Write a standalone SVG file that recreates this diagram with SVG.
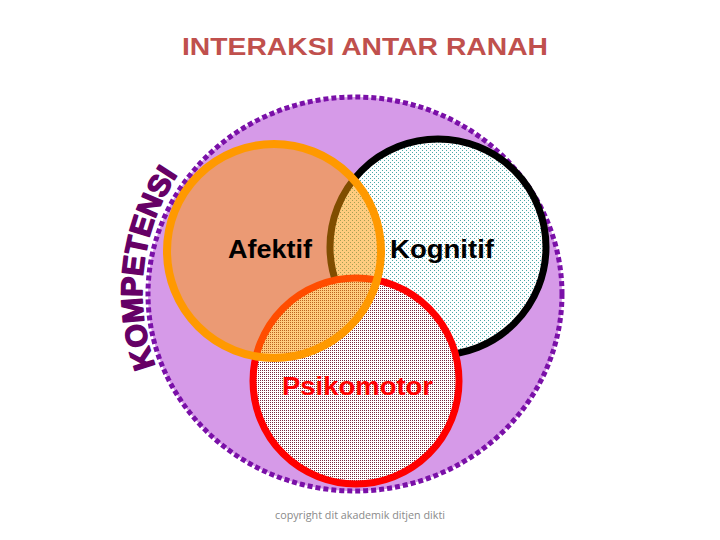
<svg xmlns="http://www.w3.org/2000/svg" width="720" height="540" viewBox="0 0 720 540">
<defs>
<pattern id="tealDots" width="4" height="4" patternUnits="userSpaceOnUse">
<rect width="4" height="4" fill="#ffffff"/>
<rect x="0" y="0" width="1" height="1" fill="#4aa8a8"/>
<rect x="2" y="2" width="1" height="1" fill="#4aa8a8"/>
</pattern>
<pattern id="redDots" width="2" height="2" patternUnits="userSpaceOnUse">
<rect width="2" height="2" fill="#ffffff"/>
<rect x="0" y="0" width="1" height="1" fill="#7a2a40"/>
</pattern>
<path id="arcText" d="M155.5,366 A212,212 0 0 1 181,170" fill="none"/>
<style>
.lbl{font-family:"Liberation Sans",Arial,sans-serif;font-weight:bold;font-size:25px}
.title{font-family:"Liberation Sans",Arial,sans-serif;font-weight:bold;font-size:24px;fill:#C0504D}
.komp{font-family:"Liberation Sans",Arial,sans-serif;font-weight:900;font-size:30px;fill:#660066;stroke:#660066;stroke-width:1.5;stroke-linejoin:round}
.copy{font-family:"Open Sans","Liberation Sans",sans-serif;font-size:11px;fill:#8a8a8a}
</style>
</defs>
<rect width="720" height="540" fill="#ffffff"/>
<g id="title"><text class="title" x="182" y="55" textLength="366" lengthAdjust="spacingAndGlyphs">INTERAKSI ANTAR RANAH</text></g>
<g id="kompetensi">
<ellipse cx="355" cy="294" rx="207" ry="197" fill="#D69AE8" stroke="#7A10A8" stroke-width="5" stroke-dasharray="5 3"/>
<text class="komp"><textPath href="#arcText" textLength="200" lengthAdjust="spacingAndGlyphs">KOMPETENSI</textPath></text>
</g>
<g id="kognitif">
<circle cx="438" cy="247" r="108" fill="url(#tealDots)" stroke="#000000" stroke-width="7"/>
</g>
<g id="psikomotor">
<circle cx="356" cy="381" r="103" fill="url(#redDots)" stroke="#FF0000" stroke-width="7"/>
</g>
<g id="afektif">
<circle cx="274" cy="251" r="107" fill="#FF9900" fill-opacity="0.5" stroke="#FF9900" stroke-width="8"/>
</g>
<g id="labels">
<text class="lbl" x="228" y="258" fill="#000" textLength="84" lengthAdjust="spacingAndGlyphs">Afektif</text>
<text class="lbl" x="390" y="258" fill="#000" textLength="104" lengthAdjust="spacingAndGlyphs">Kognitif</text>
<text class="lbl" x="282" y="395" fill="#FF0000" textLength="151" lengthAdjust="spacingAndGlyphs">Psikomotor</text>
</g>
<g id="copyright"><text class="copy" x="275" y="519" textLength="170" lengthAdjust="spacingAndGlyphs">copyright dit akademik ditjen dikti</text></g>
</svg>
